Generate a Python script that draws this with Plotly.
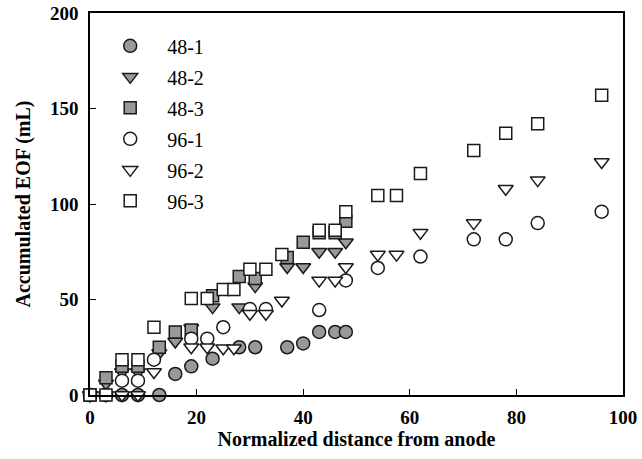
import plotly.graph_objects as go

# ---- data ----
x_48_1 = [0, 3, 6, 9, 13, 16, 19, 23, 28, 31, 37, 40, 43, 46, 48]
y_48_1 = [0, 0, 0, 0, 0, 11, 15, 19, 25, 25, 25, 27, 33, 33, 33]

x_48_2 = [0, 3, 6, 9, 13, 16, 19, 23, 28, 31, 37, 40, 43, 46, 48]
y_48_2 = [0, 6, 12, 12, 22, 28, 35, 46, 46, 57, 67, 67, 75, 75, 80]

x_48_3 = [0, 3, 6, 9, 13, 16, 19, 23, 28, 31, 37, 40, 43, 46, 48]
y_48_3 = [0, 9, 15, 15, 25, 33, 34, 52, 62, 61, 72, 80, 85, 85, 91]

x_96_1 = [0, 3, 6, 9, 12, 19, 22, 25, 30, 33, 43, 48, 54, 62, 72, 78, 84, 96]
y_96_1 = [0, 0, 7.5, 7.5, 18.5, 29.5, 29.5, 35.5, 45, 45, 44.5, 60, 66.5, 72.5, 81.5, 81.5, 90, 96]

x_96_2 = [0, 3, 6, 9, 12, 19, 22, 25, 27, 30, 33, 36, 43, 46, 48, 54, 57.5, 62, 72, 78, 84, 96]
y_96_2 = [0, 0, 0, 0, 12, 25, 25, 24.5, 24.5, 42.5, 42.5, 49.5, 60, 60, 67, 73.5, 73.5, 85, 90, 108, 112.5, 122]

x_96_3 = [0, 3, 6, 9, 12, 19, 22, 25, 27, 30, 33, 36, 43, 46, 48, 54, 57.5, 62, 72, 78, 84, 96]
y_96_3 = [0, 0, 18.5, 18.5, 35.5, 50.5, 50.5, 55.3, 55.3, 65.8, 65.8, 73.5, 86.3, 86.3, 95.9, 104.5, 104.5, 116, 128, 137, 142, 157]

series = [
    ("48-1", x_48_1, y_48_1, "circle"),
    ("48-2", x_48_2, y_48_2, "triangle-down"),
    ("48-3", x_48_3, y_48_3, "square"),
    ("96-1", x_96_1, y_96_1, "circle"),
    ("96-2", x_96_2, y_96_2, "triangle-down"),
    ("96-3", x_96_3, y_96_3, "square"),
]

GRAY = "#999999"
EDGE = "#1a1a1a"
FONT = "Liberation Serif"

fig = go.Figure()
for i, (name, xs, ys, sym) in enumerate(series):
    fill = GRAY if name.startswith("48") else "white"
    size = 12 if sym == "square" else 13
    fig.add_trace(go.Scatter(
        x=xs, y=ys, mode="markers", name=name,
        legendgroup=name,
        cliponaxis=False,
        marker=dict(symbol=sym, size=size, color=fill,
                    line=dict(color=EDGE, width=1.5)),
    ))

axis_common = dict(
    showline=True, linecolor="black", linewidth=1.5, mirror=True,
    ticks="inside", ticklen=6, tickwidth=1.2, tickcolor="black",
    showgrid=False, zeroline=False, automargin=False,
    tickfont=dict(family=FONT, size=19, color="black", weight="bold"),
)

fig.update_layout(
    width=642, height=459,
    margin=dict(l=90, r=19, t=13, b=64),
    paper_bgcolor="white", plot_bgcolor="white",
    font=dict(family=FONT, color="black"),
    xaxis=dict(range=[0, 100], tickvals=[0, 20, 40, 60, 80, 100],
               ticklabelstandoff=4,
               title=dict(text="<b>Normalized distance from anode</b>",
                          font=dict(family=FONT, size=20), standoff=2),
               **axis_common),
    yaxis=dict(range=[0, 200], tickvals=[0, 50, 100, 150, 200],
               ticklabelstandoff=6,
               title=dict(text="<b>Accumulated EOF (mL)</b>",
                          font=dict(family=FONT, size=20), standoff=14),
               **axis_common),
    showlegend=True,
    legend=dict(x=0.006, y=0.965, xanchor="left", yanchor="top",
                bgcolor="rgba(0,0,0,0)", borderwidth=0,
                font=dict(family=FONT, size=20, color="black"),
                itemwidth=64, tracegroupgap=2),
)

fig.write_html("out.html", config={"displayModeBar": False},
               post_script="document.body.style.margin='0';")
